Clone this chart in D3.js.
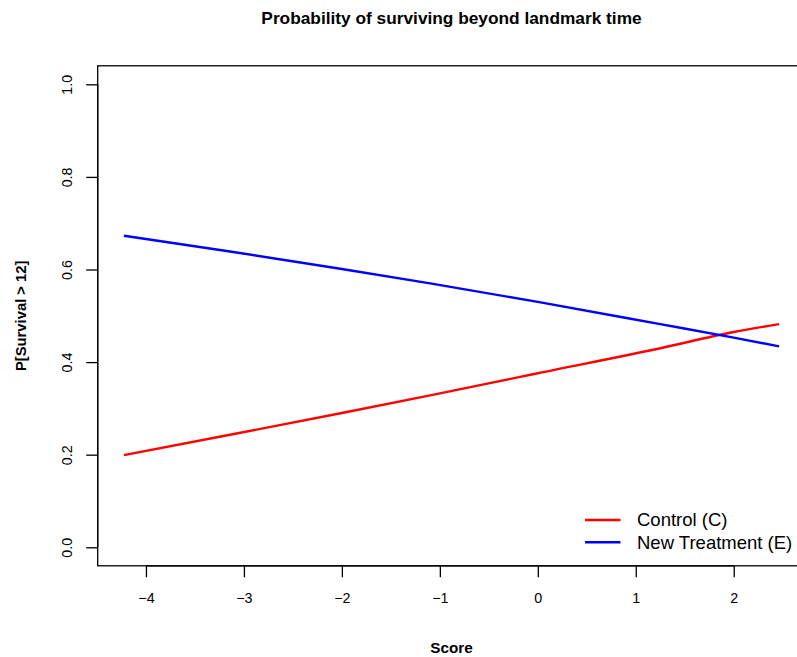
<!DOCTYPE html>
<html>
<head>
<meta charset="utf-8">
<script src="https://cdn.jsdelivr.net/npm/d3@7"></script>
<style>
  body { margin: 0; background: #fff; }
  svg { display: block; font-family: "Liberation Sans", Arial, sans-serif; }
</style>
</head>
<body>
<svg width="797" height="657"></svg>
<script>
var score = [-4.225, -3.142, -2, -1.099, 0, 1.25, 2, 2.463]
var control = [0.199, 0.243, 0.290, 0.328, 0.376, 0.430, 0.465, 0.482]
var treatment = [0.673, 0.639, 0.601, 0.570, 0.530, 0.482, 0.453, 0.434]
var xTicks = [-4, -3, -2, -1, 0, 1, 2]
var yTicks = [0, 0.2, 0.4, 0.6, 0.8, 1]
var seriesNames = ["Control (C)", "New Treatment (E)"]
var seriesColors = ["#ff0000", "#0000ff"]

var svg = d3.select("svg")
var tickFont = 14.3

// R style: pad data range by 4%
var xr = d3.extent(score)
var pad = (xr[1] - xr[0]) * 0.04
var x = d3.scaleLinear().domain([xr[0] - pad, xr[1] + pad]).range([97.7, 805.3])
var y = d3.scaleLinear().domain([-0.04, 1.04]).range([565.8, 65.8])

// box
svg.append("rect")
  .attr("x", x.range()[0]).attr("y", y.range()[1])
  .attr("width", x.range()[1] - x.range()[0])
  .attr("height", y.range()[0] - y.range()[1])
  .attr("fill", "none").attr("stroke", "#000").attr("stroke-width", 1.3)

// x axis
var xa = svg.append("g").attr("transform", "translate(0," + y.range()[0] + ")")
  .call(d3.axisBottom(x).tickValues(xTicks).tickSize(11.5).tickPadding(16)
    .tickFormat(d => d < 0 ? "\u2212" + Math.abs(d) : d))
xa.select(".domain").attr("d", "M" + x(xTicks[0]) + ",0H" + x(xTicks[xTicks.length - 1])).attr("stroke-width", 1.3)
xa.selectAll(".tick line").attr("stroke-width", 1.3)
xa.selectAll("text").attr("font-size", tickFont).attr("font-family", "Liberation Sans, Arial, sans-serif").attr("fill", "#000")

// y axis with rotated labels
var ya = svg.append("g").attr("transform", "translate(" + x.range()[0] + ",0)")
  .call(d3.axisLeft(y).tickValues(yTicks).tickSize(11.5).tickFormat(d3.format(".1f")))
ya.select(".domain").attr("d", "M0," + y(yTicks[0]) + "V" + y(yTicks[yTicks.length - 1])).attr("stroke-width", 1.3)
ya.selectAll(".tick line").attr("stroke-width", 1.3)
ya.selectAll("text")
  .attr("x", null).attr("dy", null)
  .attr("text-anchor", "middle")
  .attr("transform", "translate(-31,0) rotate(-90)")
  .attr("dy", "0.35em")
  .attr("font-size", tickFont).attr("font-family", "Liberation Sans, Arial, sans-serif").attr("fill", "#000")

// lines
var line = d3.line().x((d, i) => x(score[i])).y(d => y(d)).curve(d3.curveMonotoneX)
;[control, treatment].forEach(function (s, i) {
  svg.append("path").attr("d", line(s))
    .attr("fill", "none").attr("stroke", seriesColors[i]).attr("stroke-width", 2.4)
})

// titles
svg.append("text").attr("x", 451.5).attr("y", 24).attr("text-anchor", "middle")
  .attr("font-weight", "bold").attr("font-size", 17.3)
  .text("Probability of surviving beyond landmark time")
svg.append("text").attr("x", 451.5).attr("y", 653).attr("text-anchor", "middle")
  .attr("font-weight", "bold").attr("font-size", 15.3).text("Score")
svg.append("text").attr("transform", "translate(25.5," + y(0.5) + ") rotate(-90)")
  .attr("text-anchor", "middle").attr("font-weight", "bold").attr("font-size", 14.8)
  .text("P[Survival > 12]")

// legend
var lg = svg.append("g")
seriesNames.forEach(function (n, i) {
  var ly = 520 + i * 22.3
  lg.append("line").attr("x1", 585).attr("x2", 620.5).attr("y1", ly).attr("y2", ly)
    .attr("stroke", seriesColors[i]).attr("stroke-width", 2.4)
  lg.append("text").attr("x", 637).attr("y", ly).attr("dy", "0.35em")
    .attr("font-size", 18.5).text(n)
})
</script>
</body>
</html>
